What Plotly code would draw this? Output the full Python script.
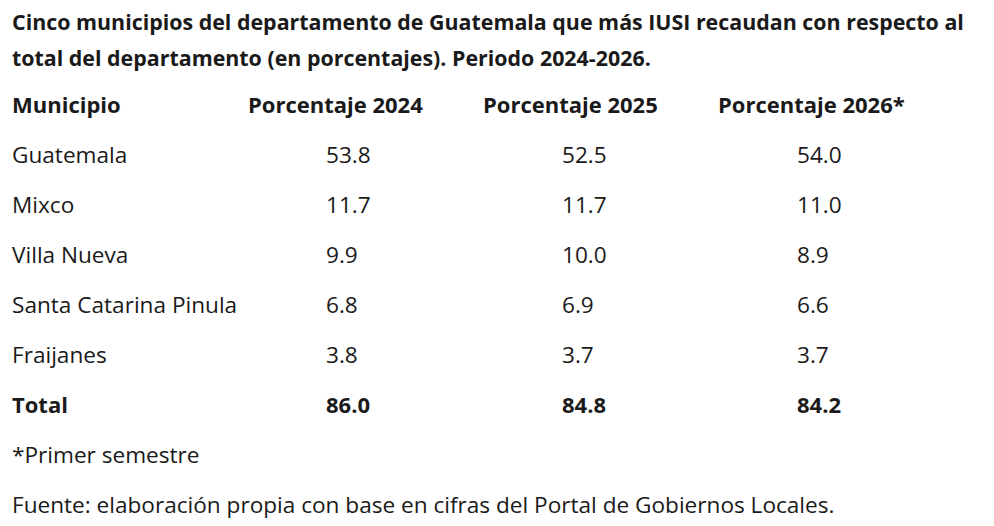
import plotly.graph_objects as go

# Table data
municipios = ["Guatemala", "Mixco", "Villa Nueva", "Santa Catarina Pinula", "Fraijanes"]
pct_2024 = [53.8, 11.7, 9.9, 6.8, 3.8]
pct_2025 = [52.5, 11.7, 10.0, 6.9, 3.7]
pct_2026 = [54.0, 11.0, 8.9, 6.6, 3.7]
totales = [86.0, 84.8, 84.2]
encabezados = ["Municipio", "Porcentaje 2024", "Porcentaje 2025", "Porcentaje 2026*"]

titulo = [
    "Cinco municipios del departamento de Guatemala que más IUSI recaudan con respecto al",
    "total del departamento (en porcentajes). Periodo 2024-2026.",
]
nota = "*Primer semestre"
fuente = "Fuente: elaboración propia con base en cifras del Portal de Gobiernos Locales."

FONT = "Open Sans"
SIZE = 22.6
BOLD_SIZE = 22
TITLE_SIZE = 21.4
COLOR = "#1a1a1a"

## Layout constants (pixel space); scatter text sits a few px right of its anchor
text_x0 = 4
header_x = [4, 240, 475, 710]
value_x = [4, 318, 554, 789]
title_y = [17, 53]
header_y = 99
row_y0 = 149
row_step = 50
nota_y = 449
fuente_y = 499


def text_trace(x, y, text, size):
    return go.Scatter(
        x=x, y=y, text=text, mode="text", textposition="middle right",
        textfont=dict(family=FONT, size=size, color=COLOR),
        hoverinfo="skip", cliponaxis=False,
    )


fig = go.Figure()

# Title (two bold lines)
fig.add_trace(text_trace([text_x0] * len(titulo), title_y,
                         [f"<b>{t}</b>" for t in titulo], TITLE_SIZE))

# Header row
fig.add_trace(text_trace(header_x, [header_y] * len(encabezados),
                         [f"<b>{h}</b>" for h in encabezados], BOLD_SIZE))

# Body rows, one trace per column
rows_y = [row_y0 + i * row_step for i in range(len(municipios))]
total_y = row_y0 + len(municipios) * row_step
columns = [
    municipios,
    [f"{v:.1f}" for v in pct_2024],
    [f"{v:.1f}" for v in pct_2025],
    [f"{v:.1f}" for v in pct_2026],
]
for cx, col in zip(value_x, columns):
    fig.add_trace(text_trace([cx] * len(col), rows_y, col, SIZE))

# Total row (bold)
fig.add_trace(text_trace(value_x, [total_y] * 4,
                         ["<b>Total</b>"] + [f"<b>{t:.1f}</b>" for t in totales],
                         BOLD_SIZE))

# Notes
fig.add_trace(text_trace([text_x0, text_x0], [nota_y, fuente_y], [nota, fuente], SIZE))

fig.update_xaxes(range=[0, 994], visible=False, fixedrange=True)
fig.update_yaxes(range=[526, 0], visible=False, fixedrange=True)
fig.update_layout(
    width=994, height=526, margin=dict(l=0, r=0, t=0, b=0),
    paper_bgcolor="white", plot_bgcolor="white", showlegend=False,
)

fig.write_html("out.html")
